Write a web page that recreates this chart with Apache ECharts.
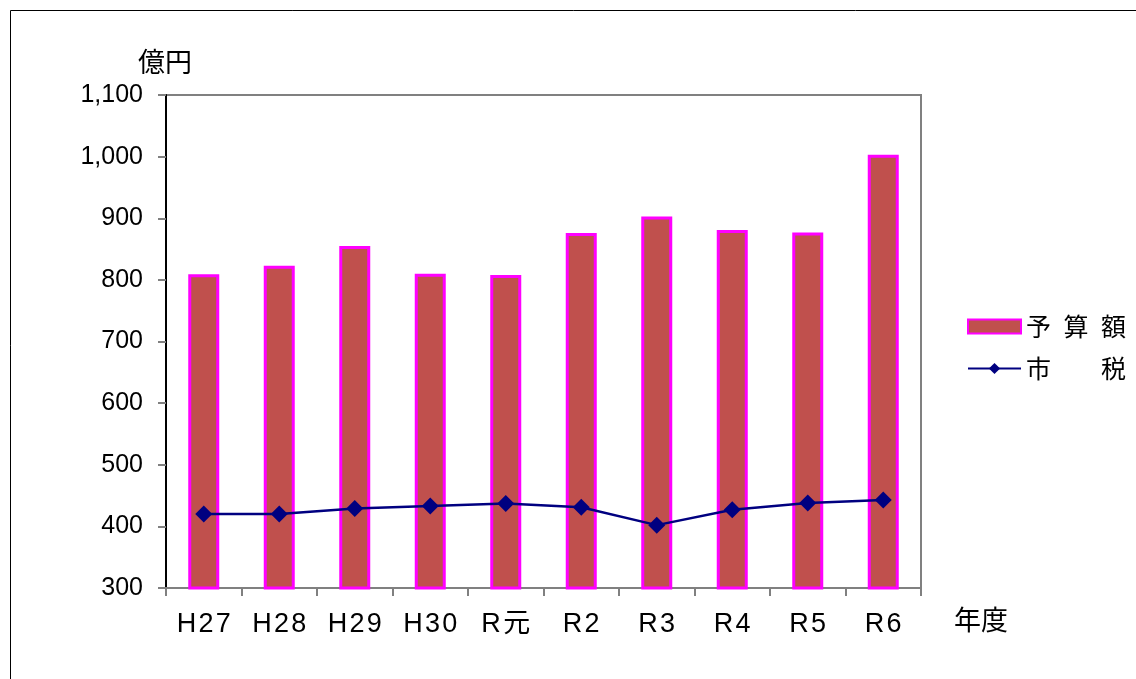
<!DOCTYPE html>
<html>
<head>
<meta charset="utf-8">
<script src="https://cdn.jsdelivr.net/npm/echarts@6/dist/echarts.min.js"></script>
<style>
html,body{margin:0;padding:0;background:#fff;}
#chart{width:1136px;height:679px;}
</style>
</head>
<body>
<div id="chart"></div>
<script>
const categories = ['H27','H28','H29','H30','R元','R2','R3','R4','R5','R6'];
const budget = [809, 823, 855, 810, 808, 876, 903, 881, 877, 1003];
const cityTax = [420, 420, 429, 433, 437, 431, 402, 427, 438, 443];
const yTicks = { min: 300, max: 1100, interval: 100 };
const seriesNames = ['予算額', '市税'];
const legendLabels = { '予算額': '予\u2002算\u2002額', '市税': '市\u3000\u3000税' };

const chart = echarts.init(document.getElementById('chart'));
const baseFont = '"Liberation Sans", Arial, "Noto Sans CJK JP", sans-serif';
const cjkFont = '"Noto Sans CJK JP", sans-serif';

chart.setOption({
  animation: false,
  backgroundColor: '#fff',
  grid: { left: 166, right: 215, top: 95, bottom: 91, show: true, borderColor: '#808080', borderWidth: 2 },
  legend: {
    orient: 'vertical', left: 962, top: 309, itemGap: 17,
    itemWidth: 53, itemHeight: 14,
    textStyle: { fontSize: 25, color: '#000', fontFamily: cjkFont },
    formatter: n => legendLabels[n] || n,
    data: [
      { name: seriesNames[0], icon: 'rect' },
      { name: seriesNames[1] }
    ]
  },
  xAxis: {
    type: 'category', data: categories, boundaryGap: true,
    axisLine: { lineStyle: { color: '#808080', width: 2 } },
    axisTick: { show: true, length: 8, lineStyle: { color: '#808080', width: 2 } },
    axisLabel: { color: '#000', fontSize: 27, margin: 23, fontFamily: baseFont,
      formatter: s => s.split('').join('\u200A') }
  },
  yAxis: {
    type: 'value', min: yTicks.min, max: yTicks.max, interval: yTicks.interval,
    splitLine: { show: false },
    axisLine: { show: true, lineStyle: { color: '#000', width: 2 } },
    axisTick: { show: true, length: 8, lineStyle: { color: '#808080', width: 2 } },
    axisLabel: { color: '#000', fontSize: 25, margin: 23, fontFamily: baseFont,
      formatter: v => v.toLocaleString('en-US') }
  },
  graphic: [
    { type: 'rect', shape: { x: 10.5, y: 10.5, width: 1300, height: 800 }, style: { fill: 'none', stroke: '#000', lineWidth: 1 }, silent: true },
    { type: 'text', left: 138, top: 48, style: { text: '億円', fill: '#000', font: '27px ' + cjkFont } },
    { type: 'text', left: 954, top: 606, style: { text: '年度', fill: '#000', font: '27px ' + cjkFont } }
  ],
  series: [
    {
      name: seriesNames[0], type: 'bar', data: budget, barWidth: 31,
      itemStyle: { color: '#C0504D', borderColor: '#FF00FF', borderWidth: 3 }
    },
    {
      name: seriesNames[1], type: 'line', data: cityTax,
      symbol: 'diamond', symbolSize: 17,
      lineStyle: { color: '#000080', width: 2.5 },
      itemStyle: { color: '#000080' }
    }
  ]
});
</script>
</body>
</html>
